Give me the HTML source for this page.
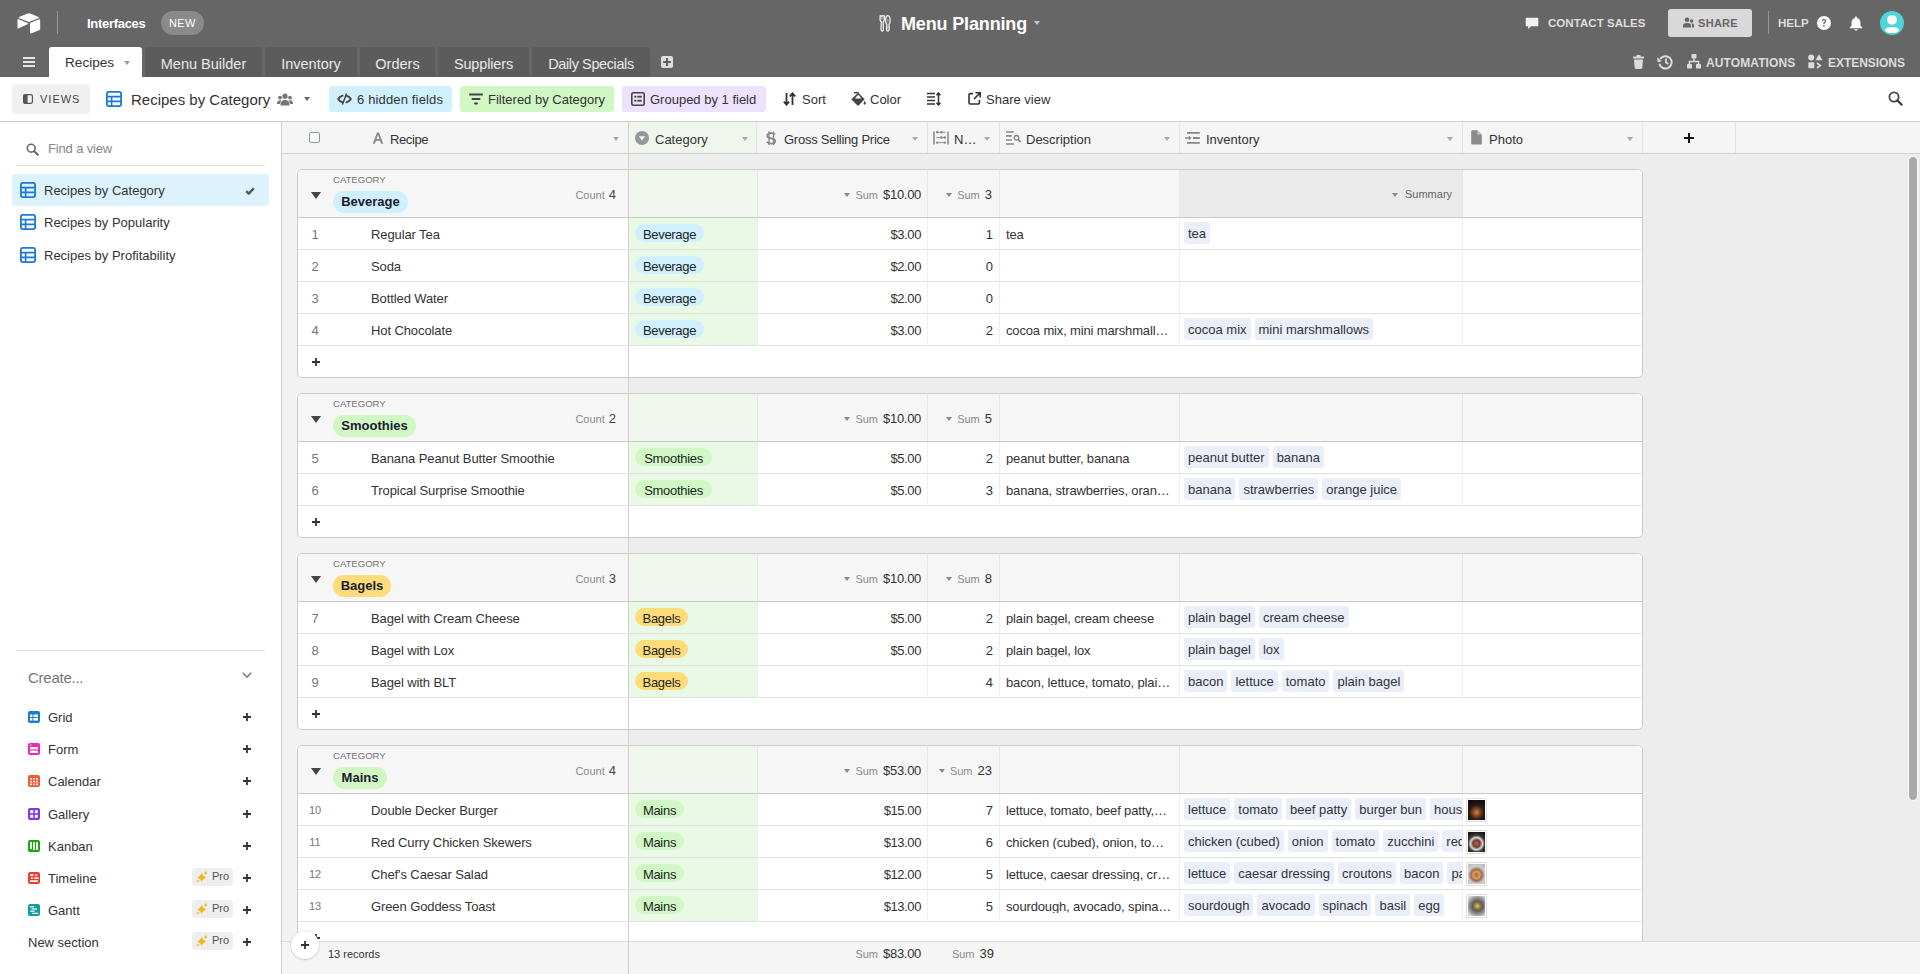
<!DOCTYPE html><html><head><meta charset="utf-8"><title>Menu Planning</title><style>
*{box-sizing:border-box;margin:0;padding:0}
html,body{width:1920px;height:974px;overflow:hidden;background:#fff;font-family:"Liberation Sans", sans-serif;color:#333}
.abs{position:absolute}
.t{position:absolute;white-space:nowrap;line-height:1}
#top{position:absolute;left:0;top:0;width:1920px;height:77px;background:#666}
.tab{position:absolute;top:47px;height:30px;background:#5c5c5c;border-radius:3px 3px 0 0}
.tab span{position:absolute;top:0;font-size:14.5px;line-height:1;color:#e8e8e8;white-space:nowrap}
#toolbar{position:absolute;left:0;top:77px;width:1920px;height:45px;background:#fff;border-bottom:1px solid #cfcfcf}
.btn{position:absolute;top:9px;height:26px;border-radius:3px}
#side{position:absolute;left:0;top:122px;width:282px;height:852px;background:#fff;border-right:1px solid #cfcfcf}
#grid{position:absolute;left:282px;top:122px;width:1638px;height:852px;background:#ededed;overflow:hidden}
.hdr{position:absolute;left:0;top:0;width:1638px;height:32px;background:#f5f5f5;border-bottom:1px solid #cfcfcf}
.hc{position:absolute;top:0;height:31px;border-right:1px solid #e4e4e4}
.hc .t{top:11px;font-size:13px;color:#333}
.grp{position:absolute;left:15px;width:1346px;background:#fff;border:1px solid #cbcbcb;border-radius:5px;overflow:hidden}
.gh{position:absolute;left:0;top:0;width:1344px;height:48px;background:#f6f6f6;border-bottom:1px solid #cbcbcb}
.row{position:absolute;left:0;width:1344px;height:32px;border-bottom:1px solid #dfe2e4;background:#fff}
.cell{position:absolute;top:0;height:31px;border-right:1px solid #ececec}
.c{position:absolute;font-size:13px;line-height:1;white-space:nowrap;color:#333}
.pill{position:absolute;top:6px;height:18px;border-radius:9px;font-size:13px;line-height:18px;padding:0 8px;color:#1d1f25;white-space:nowrap}
.chip{position:absolute;top:4px;height:22px;border-radius:3px;background:#e9eef9;font-size:13px;line-height:23px;padding:0 4px;color:#333;white-space:nowrap}
</style></head><body>
<div id="top">
<svg class="abs" style="left:16.6px;top:13px" width="24" height="22" viewBox="0 0 24 22">
<path d="M10.6 0.6 L2.2 4.0 C1.6 4.3 1.6 4.9 2.2 5.2 L10.7 8.5 C11.5 8.8 12.4 8.8 13.2 8.5 L21.6 5.2 C22.2 4.9 22.2 4.3 21.6 4.0 L13.2 0.6 C12.4 0.3 11.4 0.3 10.6 0.6Z" fill="#fff"/>
<path d="M13 10.4 V19.8 C13 20.3 13.5 20.6 13.9 20.4 L22.7 17.0 C23 16.9 23.2 16.6 23.2 16.3 V6.9 C23.2 6.4 22.7 6.1 22.3 6.3 L13.5 9.7 C13.2 9.8 13 10.1 13 10.4Z" fill="#fff"/>
<path d="M11 10.9 L8.4 12.2 L8.1 12.3 L1.3 15.6 C0.9 15.8 0.5 15.5 0.5 15.1 V6.6 C0.5 6.4 0.6 6.3 0.7 6.2 C0.8 6.1 0.9 6.1 1.0 6.1 C1.1 6.1 1.2 6.1 1.3 6.2 L10.8 9.9 C11.3 10.1 11.3 10.7 11 10.9Z" fill="#fff"/>
</svg>
<div class="abs" style="left:57px;top:11px;width:1px;height:23px;background:rgba(255,255,255,0.3)"></div>
<div class="t" style="left:87px;top:17px;font-size:13px;font-weight:700;color:#fff;letter-spacing:-0.3px">Interfaces</div>
<div class="abs" style="left:161px;top:11px;width:43px;height:24px;border-radius:12px;background:#8a8a8a"></div>
<div class="t" style="left:169px;top:18px;font-size:11px;color:#fff;letter-spacing:0.3px">NEW</div>
<svg class="abs" style="left:879px;top:15px" width="12" height="17" viewBox="0 0 12 17"><path d="M1.1 0.9 H5.3 V4.9 C5.3 5.9 4.7 6.5 4.1 6.8 L4.4 14.6 C4.4 15.6 3.9 16.1 3.2 16.1 C2.5 16.1 2 15.6 2 14.6 L2.3 6.8 C1.7 6.5 1.1 5.9 1.1 4.9Z" fill="none" stroke="#fff" stroke-width="1.15"/><path d="M2.6 1 V4.6 M3.8 1 V4.6" stroke="#fff" stroke-width="0.6" opacity="0.7"/><path d="M8.9 0.7 C10.4 0.7 11.2 3 11.2 5.8 C11.2 7.6 10.6 8.8 10 9.3 L10.2 14.6 C10.2 15.6 9.6 16.1 8.9 16.1 C8.2 16.1 7.6 15.6 7.6 14.6 L7.8 9.3 C7.2 8.8 6.6 7.6 6.6 5.8 C6.6 3 7.4 0.7 8.9 0.7Z" fill="none" stroke="#fff" stroke-width="1.15"/><path d="M8.9 3.2 V7.6 M8.9 10.5 V14.3" stroke="#fff" stroke-width="0.7" opacity="0.6"/></svg>
<div class="t" style="left:901px;top:15px;font-size:18px;font-weight:700;color:#fff;letter-spacing:-0.15px">Menu Planning</div>
<div class="abs" style="left:1034px;top:21px;width:0;height:0;border-left:3.5px solid transparent;border-right:3.5px solid transparent;border-top:4.5px solid #c8c8c8"></div>
<svg class="abs" style="left:1525px;top:17px" width="14" height="13" viewBox="0 0 14 13"><path d="M2 0.8 H12 C12.8 0.8 13.3 1.3 13.3 2.1 V8 C13.3 8.8 12.8 9.3 12 9.3 H6 L3.2 12 V9.3 H2 C1.2 9.3 0.7 8.8 0.7 8 V2.1 C0.7 1.3 1.2 0.8 2 0.8Z" fill="#f2f2f2"/></svg>
<div class="t" style="left:1548px;top:18px;font-size:11.5px;font-weight:700;color:#dedede;letter-spacing:0.05px">CONTACT SALES</div>
<div class="abs" style="left:1668px;top:9px;width:84px;height:28px;border-radius:3px;background:#d9d9d9"></div>
<svg class="abs" style="left:1683px;top:17px" width="11" height="11" viewBox="0 0 11 11"><circle cx="4" cy="2.7" r="2.3" fill="#666"/><path d="M0 10.5 V8.5 C0 6.8 1.5 6 4 6 C6.5 6 8 6.8 8 8.5 V10.5Z" fill="#666"/><circle cx="8.6" cy="4" r="1.7" fill="#666"/><path d="M8.6 6.3 C10 6.3 11 7 11 8.3 V10.5 H9 V8.3 C9 7.4 8.8 6.8 8.3 6.3Z" fill="#666"/></svg>
<div class="t" style="left:1698px;top:18px;font-size:11px;color:#666;letter-spacing:0.3px;font-weight:700">SHARE</div>
<div class="abs" style="left:1768px;top:11px;width:1px;height:23px;background:rgba(255,255,255,0.3)"></div>
<div class="t" style="left:1778px;top:18px;font-size:11.5px;font-weight:700;color:#dedede;letter-spacing:0px">HELP</div>
<svg class="abs" style="left:1817px;top:16px" width="14" height="14" viewBox="0 0 14 14"><circle cx="7" cy="7" r="7" fill="#fff"/><path d="M4.8 5.2 C4.8 3.9 5.8 3.1 7 3.1 C8.3 3.1 9.3 3.9 9.3 5.1 C9.3 6.4 7.8 6.7 7.6 7.7 V8.3 H6.3 V7.5 C6.4 6 8 5.9 8 5.1 C8 4.6 7.6 4.2 7 4.2 C6.4 4.2 6 4.6 6 5.2Z" fill="#666"/><rect x="6.2" y="9.2" width="1.5" height="1.5" rx="0.3" fill="#666"/></svg>
<svg class="abs" style="left:1849px;top:16px" width="14" height="15" viewBox="0 0 14 15"><path d="M7 0.5 C7.6 0.5 8 0.9 8 1.5 V1.9 C10.2 2.4 11.5 4.2 11.5 6.5 V9.8 L13.2 11.6 C13.5 11.9 13.3 12.3 12.9 12.3 H1.1 C0.7 12.3 0.5 11.9 0.8 11.6 L2.5 9.8 V6.5 C2.5 4.2 3.8 2.4 6 1.9 V1.5 C6 0.9 6.4 0.5 7 0.5Z" fill="#fff"/><path d="M5.2 13.2 H8.8 C8.6 14.1 7.9 14.6 7 14.6 C6.1 14.6 5.4 14.1 5.2 13.2Z" fill="#fff"/></svg>
<svg class="abs" style="left:1880px;top:11px" width="24" height="24" viewBox="0 0 24 24"><circle cx="12" cy="12" r="12" fill="#4dd5d9"/><circle cx="12" cy="8.8" r="4.9" fill="#fff"/><ellipse cx="12" cy="19" rx="7" ry="3.1" fill="#fff"/></svg>
<div class="abs" style="left:23px;top:57px;width:12px;height:2px;background:#e6e6e6"></div>
<div class="abs" style="left:23px;top:61px;width:12px;height:2px;background:#e6e6e6"></div>
<div class="abs" style="left:23px;top:65px;width:12px;height:2px;background:#e6e6e6"></div>
<div class="tab" style="left:49px;width:93px;background:#fff"><span style="left:16px;top:9px;color:#333;font-size:13.6px">Recipes</span><div class="abs" style="left:75px;top:14px;border-left:3.5px solid transparent;border-right:3.5px solid transparent;border-top:4.5px solid #9e9e9e"></div></div>
<div class="tab" style="left:145px;width:117px"><span style="left:0;width:100%;text-align:center;top:10px;letter-spacing:0px">Menu Builder</span></div>
<div class="tab" style="left:265px;width:92px"><span style="left:0;width:100%;text-align:center;top:10px;letter-spacing:0px">Inventory</span></div>
<div class="tab" style="left:360px;width:75px"><span style="left:0;width:100%;text-align:center;top:10px;letter-spacing:0px">Orders</span></div>
<div class="tab" style="left:438px;width:91px"><span style="left:0;width:100%;text-align:center;top:10px;letter-spacing:-0.15px">Suppliers</span></div>
<div class="tab" style="left:532px;width:118px"><span style="left:0;width:100%;text-align:center;top:10px;letter-spacing:-0.4px">Daily Specials</span></div>
<svg class="abs" style="left:661px;top:56px" width="12" height="12" viewBox="0 0 12 12"><rect x="0" y="0" width="12" height="12" rx="2" fill="#dedede"/><path d="M6 2.1 V9.9 M2.1 6 H9.9" stroke="#5f5f5f" stroke-width="2.1"/></svg>
<svg class="abs" style="left:1633px;top:55px" width="11" height="14" viewBox="0 0 11 14"><rect x="3.5" y="0" width="4" height="2" rx="0.5" fill="#dcdcdc"/><rect x="0" y="1.6" width="11" height="2" rx="0.6" fill="#dcdcdc"/><path d="M1 4.5 H10 L9.3 12.8 C9.2 13.5 8.8 14 8 14 H3 C2.2 14 1.8 13.5 1.7 12.8Z" fill="#dcdcdc"/></svg>
<svg class="abs" style="left:1657px;top:54px" width="16" height="16" viewBox="0 0 16 16"><path d="M3.2 5 A6.2 6.2 0 1 1 2.4 9.8" fill="none" stroke="#dcdcdc" stroke-width="2"/><path d="M0.3 3.2 L4.6 7.2 L0.6 8.3Z" fill="#dcdcdc"/><path d="M9 4.5 V8.5 L11.5 10" fill="none" stroke="#dcdcdc" stroke-width="1.8"/></svg>
<svg class="abs" style="left:1687px;top:54px" width="14" height="15" viewBox="0 0 14 15"><rect x="4.5" y="0" width="5" height="4.5" rx="0.8" fill="#dcdcdc"/><path d="M7 4.5 V7 M2.5 10 V7.5 H11.5 V10" fill="none" stroke="#dcdcdc" stroke-width="1.6"/><rect x="0" y="10" width="5" height="4.6" rx="0.8" fill="#dcdcdc"/><rect x="9" y="10" width="5" height="4.6" rx="0.8" fill="#dcdcdc"/></svg>
<div class="t" style="left:1706px;top:57px;font-size:12px;font-weight:700;color:#dcdcdc;letter-spacing:0.1px">AUTOMATIONS</div>
<svg class="abs" style="left:1808px;top:54px" width="15" height="15" viewBox="0 0 15 15"><circle cx="3.2" cy="3.5" r="3" fill="#dcdcdc"/><path d="M11 0.3 L14.5 6.3 H7.5Z" fill="#dcdcdc"/><rect x="0.3" y="8.3" width="6" height="6" rx="1" fill="#dcdcdc"/><path d="M9 9 L12.3 11.5 L9 14" fill="none" stroke="#dcdcdc" stroke-width="1.6"/></svg>
<div class="t" style="left:1828px;top:57px;font-size:12px;font-weight:700;color:#dcdcdc;letter-spacing:-0.05px">EXTENSIONS</div>
</div>
<div id="toolbar">
<div class="abs" style="left:12px;top:7px;width:78px;height:30px;border-radius:4px;background:#f0f0f0"></div>
<svg class="abs" style="left:23px;top:17px" width="10" height="10" viewBox="0 0 10 10"><rect x="0.6" y="0.6" width="8.8" height="8.8" rx="1.6" fill="none" stroke="#555" stroke-width="1.2"/><path d="M1.6 0.6 H4.6 V9.4 H1.6 C1 9.4 0.6 9 0.6 8.4 V1.6 C0.6 1 1 0.6 1.6 0.6Z" fill="#555"/></svg>
<div class="t" style="left:40px;top:17px;font-size:11px;font-weight:400;color:#444;letter-spacing:1.0px">VIEWS</div>
<svg class="abs" style="left:106px;top:14px" width="16" height="16" viewBox="0 0 16 16"><rect x="0.9" y="0.9" width="14.2" height="14.2" rx="2" fill="none" stroke="#1b7ad3" stroke-width="1.8"/><path d="M1 5.6 H15 M1 10.4 H15 M5.6 5.6 V15" stroke="#1b7ad3" stroke-width="1.6"/></svg>
<div class="t" style="left:131px;top:15px;font-size:15px;color:#333">Recipes by Category</div>
<svg class="abs" style="left:277px;top:15.7px" width="16" height="13" viewBox="0 0 16 13"><circle cx="8" cy="3.2" r="2.6" fill="#777"/><circle cx="3" cy="4.6" r="1.9" fill="#777"/><circle cx="13" cy="4.6" r="1.9" fill="#777"/><path d="M3.5 12.5 C3.5 8.6 5.2 7 8 7 C10.8 7 12.5 8.6 12.5 12.5Z" fill="#777"/><path d="M0 11 C0 8.4 1 7.3 3 7.3 C3.6 7.3 4 7.4 4.4 7.6 C3.6 8.5 3.2 9.6 3.1 11Z M16 11 C16 8.4 15 7.3 13 7.3 C12.4 7.3 12 7.4 11.6 7.6 C12.4 8.5 12.8 9.6 12.9 11Z" fill="#777"/></svg>
<div class="abs" style="left:304px;top:20px;border-left:3.5px solid transparent;border-right:3.5px solid transparent;border-top:4.5px solid #666"></div>
<div class="btn" style="left:329px;width:123px;background:#d0f0fd"></div>
<svg class="abs" style="left:337px;top:16px" width="15" height="12" viewBox="0 0 15 12"><path d="M5.6 2.6 Q2.4 3.8 1.1 6 Q2.4 8.2 5.6 9.4 M9.4 2.6 Q12.6 3.8 13.9 6 Q12.6 8.2 9.4 9.4" fill="none" stroke="#444" stroke-width="1.8" stroke-linecap="round"/><path d="M9.6 0.6 L5.4 11.4" stroke="#444" stroke-width="1.5"/></svg>
<div class="t" style="left:357px;top:16px;font-size:13px;color:#333;letter-spacing:0.15px">6 hidden fields</div>
<div class="btn" style="left:460px;width:154px;background:#d1f7c4"></div>
<svg class="abs" style="left:469px;top:16px" width="14" height="12" viewBox="0 0 14 12"><rect x="0" y="0.5" width="14" height="2" rx="1" fill="#444"/><rect x="2.5" y="5" width="9" height="2" rx="1" fill="#444"/><rect x="5" y="9.5" width="4" height="2" rx="1" fill="#444"/></svg>
<div class="t" style="left:488px;top:16px;font-size:13px;color:#333">Filtered by Category</div>
<div class="btn" style="left:622px;width:144px;background:#ede2fe"></div>
<svg class="abs" style="left:631px;top:15px" width="14" height="14" viewBox="0 0 14 14"><rect x="0.8" y="0.8" width="12.4" height="12.4" rx="1.5" fill="none" stroke="#444" stroke-width="1.6"/><rect x="3.3" y="3.8" width="2" height="1.8" fill="#444"/><rect x="6.3" y="3.8" width="4.5" height="1.8" fill="#444"/><rect x="3.3" y="7.8" width="2" height="1.8" fill="#444"/><rect x="6.3" y="7.8" width="4.5" height="1.8" fill="#444"/></svg>
<div class="t" style="left:650px;top:16px;font-size:13px;color:#333">Grouped by 1 field</div>
<svg class="abs" style="left:783px;top:15px" width="13" height="14" viewBox="0 0 13 14"><path d="M3.5 1 V12.5 M0.8 9.6 L3.5 12.6 L6.2 9.6" fill="none" stroke="#333" stroke-width="1.8"/><path d="M9.5 13 V1.5 M6.8 4.4 L9.5 1.4 L12.2 4.4" fill="none" stroke="#333" stroke-width="1.8"/></svg>
<div class="t" style="left:802px;top:16px;font-size:13px;color:#333">Sort</div>
<svg class="abs" style="left:851px;top:92px;top:15px" width="15" height="14" viewBox="0 0 15 14"><path d="M0.3 7.3 L7.2 0.7 L13.7 7.3 L7 13.9Z" fill="#444"/><path d="M3.9 6.4 L10.5 6.4 L7.2 2.7Z" fill="#fff"/><path d="M2.9 0 H7.3 L8 0.8 L7.2 1.6 H2.9Z" fill="#444"/><path d="M13.7 9 C14.5 10.3 14.8 11 14.8 11.6 C14.8 12.3 14.3 12.8 13.7 12.8 C13.1 12.8 12.6 12.3 12.6 11.6 C12.6 11 12.9 10.3 13.7 9Z" fill="#444"/></svg>
<div class="t" style="left:870px;top:16px;font-size:13px;color:#333">Color</div>
<svg class="abs" style="left:927px;top:15px" width="14" height="14" viewBox="0 0 14 14"><path d="M0 1.5 H8 M0 5 H8 M0 8.5 H8 M0 12 H8" stroke="#333" stroke-width="1.4"/><path d="M11.5 1 V13 M9.5 3.2 L11.5 1 L13.5 3.2 M9.5 10.8 L11.5 13 L13.5 10.8" fill="none" stroke="#333" stroke-width="1.5"/></svg>
<svg class="abs" style="left:968px;top:15px" width="13" height="13" viewBox="0 0 13 13"><path d="M5 1.6 H2.2 C1.5 1.6 1 2.1 1 2.8 V10.8 C1 11.5 1.5 12 2.2 12 H10.2 C10.9 12 11.4 11.5 11.4 10.8 V8" fill="none" stroke="#333" stroke-width="1.6"/><path d="M7.5 0.8 H12.2 V5.5 M12 1 L6 7" fill="none" stroke="#333" stroke-width="1.6"/></svg>
<div class="t" style="left:986px;top:16px;font-size:13px;color:#333">Share view</div>
<svg class="abs" style="left:1888px;top:14px" width="15" height="15" viewBox="0 0 15 15"><circle cx="6" cy="6" r="4.6" fill="none" stroke="#444" stroke-width="1.8"/><path d="M9.4 9.4 L13.6 13.6" stroke="#444" stroke-width="2.2" stroke-linecap="round"/></svg>
</div>
<div id="side">
<svg class="abs" style="left:26px;top:21px" width="13" height="13" viewBox="0 0 13 13"><circle cx="5.2" cy="5.2" r="3.9" fill="none" stroke="#666" stroke-width="1.6"/><path d="M8.2 8.2 L11.8 11.8" stroke="#666" stroke-width="2" stroke-linecap="round"/></svg>
<div class="t" style="left:48px;top:20px;font-size:13px;color:#888;letter-spacing:-0.15px">Find a view</div>
<div class="abs" style="left:16px;top:43px;width:249px;height:1px;background:#e2e2e2"></div>
<div class="abs" style="left:12px;top:52px;width:257px;height:32px;border-radius:3px;background:#dcf3fd"></div>
<svg class="abs" style="left:20px;top:60px" width="16" height="16" viewBox="0 0 16 16"><rect x="0.9" y="0.9" width="14.2" height="14.2" rx="2" fill="none" stroke="#1b7ad3" stroke-width="1.8"/><path d="M1 5.6 H15 M1 10.4 H15 M5.6 5.6 V15" stroke="#1b7ad3" stroke-width="1.6"/></svg>
<div class="t" style="left:44px;top:62px;font-size:13px;color:#333">Recipes by Category</div>
<svg class="abs" style="left:20px;top:92px" width="16" height="16" viewBox="0 0 16 16"><rect x="0.9" y="0.9" width="14.2" height="14.2" rx="2" fill="none" stroke="#1b7ad3" stroke-width="1.8"/><path d="M1 5.6 H15 M1 10.4 H15 M5.6 5.6 V15" stroke="#1b7ad3" stroke-width="1.6"/></svg>
<div class="t" style="left:44px;top:94px;font-size:13px;color:#333">Recipes by Popularity</div>
<svg class="abs" style="left:20px;top:125px" width="16" height="16" viewBox="0 0 16 16"><rect x="0.9" y="0.9" width="14.2" height="14.2" rx="2" fill="none" stroke="#1b7ad3" stroke-width="1.8"/><path d="M1 5.6 H15 M1 10.4 H15 M5.6 5.6 V15" stroke="#1b7ad3" stroke-width="1.6"/></svg>
<div class="t" style="left:44px;top:127px;font-size:13px;color:#333">Recipes by Profitability</div>
<svg class="abs" style="left:245px;top:64px" width="10" height="9" viewBox="0 0 10 9"><path d="M1.2 5.2 L3.8 7.6 L8.8 2.2" fill="none" stroke="#555" stroke-width="2.4" stroke-linejoin="round"/></svg>
<div class="abs" style="left:16px;top:528px;width:249px;height:1px;background:#e2e2e2"></div>
<div class="t" style="left:28px;top:548px;font-size:15px;color:#777;letter-spacing:-0.25px">Create...</div>
<svg class="abs" style="left:242px;top:550px" width="10" height="7" viewBox="0 0 10 7"><path d="M0.8 0.8 L5 5.2 L9.2 0.8" fill="none" stroke="#777" stroke-width="1.6"/></svg>
<svg class="abs" style="left:28px;top:589px" width="12" height="12" viewBox="0 0 12 12"><rect x="0" y="0" width="12" height="12" rx="2" fill="#1b7ad3"/><rect x="2" y="3.5" width="2.4" height="2.6" fill="#fff"/><rect x="5.4" y="3.5" width="4.6" height="2.6" fill="#fff"/><rect x="2" y="7" width="2.4" height="2.6" fill="#fff"/><rect x="5.4" y="7" width="4.6" height="2.6" fill="#fff"/></svg>
<div class="t" style="left:48px;top:589px;font-size:13px;color:#333">Grid</div>
<svg class="abs" style="left:243px;top:591px" width="8" height="8" viewBox="0 0 8 8"><path d="M4 0 V8 M0 4 H8" stroke="#333" stroke-width="1.8"/></svg>
<svg class="abs" style="left:28px;top:621px" width="12" height="12" viewBox="0 0 12 12"><rect x="0" y="0" width="12" height="12" rx="2" fill="#e929ba"/><rect x="2" y="4" width="8" height="2.4" fill="#fff"/><rect x="2" y="7.6" width="8" height="2.4" fill="#fff"/><rect x="2" y="1.6" width="1.4" height="1" fill="#fff"/></svg>
<div class="t" style="left:48px;top:621px;font-size:13px;color:#333">Form</div>
<svg class="abs" style="left:243px;top:623px" width="8" height="8" viewBox="0 0 8 8"><path d="M4 0 V8 M0 4 H8" stroke="#333" stroke-width="1.8"/></svg>
<svg class="abs" style="left:28px;top:653px" width="12" height="12" viewBox="0 0 12 12"><rect x="0" y="0" width="12" height="12" rx="2" fill="#f05a3a"/><rect x="2.2" y="3.2" width="1.8" height="1.6" fill="#fff"/><rect x="5.1" y="3.2" width="1.8" height="1.6" fill="#fff"/><rect x="8" y="3.2" width="1.8" height="1.6" fill="#fff"/><rect x="2.2" y="5.9" width="1.8" height="1.6" fill="#fff"/><rect x="5.1" y="5.9" width="1.8" height="1.6" fill="#fff"/><rect x="8" y="5.9" width="1.8" height="1.6" fill="#fff"/><rect x="2.2" y="8.6" width="1.8" height="1.6" fill="#fff"/><rect x="5.1" y="8.6" width="1.8" height="1.6" fill="#fff"/><rect x="8" y="8.6" width="1.8" height="1.6" fill="#fff"/></svg>
<div class="t" style="left:48px;top:653px;font-size:13px;color:#333">Calendar</div>
<svg class="abs" style="left:243px;top:655px" width="8" height="8" viewBox="0 0 8 8"><path d="M4 0 V8 M0 4 H8" stroke="#333" stroke-width="1.8"/></svg>
<svg class="abs" style="left:28px;top:686px" width="12" height="12" viewBox="0 0 12 12"><rect x="0" y="0" width="12" height="12" rx="2" fill="#7c39ed"/><rect x="2.2" y="2.2" width="3" height="3" fill="#fff"/><rect x="6.8" y="2.2" width="3" height="3" fill="#fff"/><rect x="2.2" y="6.8" width="3" height="3" fill="#fff"/><rect x="6.8" y="6.8" width="3" height="3" fill="#fff"/></svg>
<div class="t" style="left:48px;top:686px;font-size:13px;color:#333">Gallery</div>
<svg class="abs" style="left:243px;top:688px" width="8" height="8" viewBox="0 0 8 8"><path d="M4 0 V8 M0 4 H8" stroke="#333" stroke-width="1.8"/></svg>
<svg class="abs" style="left:28px;top:718px" width="12" height="12" viewBox="0 0 12 12"><rect x="0" y="0" width="12" height="12" rx="2" fill="#12a90e"/><rect x="2" y="2" width="2" height="7" fill="#fff"/><rect x="5" y="2" width="2" height="8" fill="#fff"/><rect x="8" y="2" width="2" height="8" fill="#fff"/></svg>
<div class="t" style="left:48px;top:718px;font-size:13px;color:#333">Kanban</div>
<svg class="abs" style="left:243px;top:720px" width="8" height="8" viewBox="0 0 8 8"><path d="M4 0 V8 M0 4 H8" stroke="#333" stroke-width="1.8"/></svg>
<svg class="abs" style="left:28px;top:750px" width="12" height="12" viewBox="0 0 12 12"><rect x="0" y="0" width="12" height="12" rx="2" fill="#ef3d33"/><rect x="2" y="2.2" width="3.6" height="1.7" fill="#fff"/><rect x="7.2" y="2.2" width="2" height="1.7" fill="#fff"/><rect x="3" y="5.2" width="1.8" height="1.7" fill="#fff"/><rect x="6.2" y="5.2" width="4.4" height="1.7" fill="#fff"/><rect x="2" y="8.2" width="7.8" height="1.7" fill="#fff"/></svg>
<div class="t" style="left:48px;top:750px;font-size:13px;color:#333">Timeline</div>
<svg class="abs" style="left:243px;top:752px" width="8" height="8" viewBox="0 0 8 8"><path d="M4 0 V8 M0 4 H8" stroke="#333" stroke-width="1.8"/></svg>
<div class="abs" style="left:192px;top:746px;width:41px;height:18px;border-radius:4px;background:#eeeeee"></div>
<svg class="abs" style="left:196px;top:749px" width="12" height="12" viewBox="0 0 12 12"><path d="M5.7 1.6 Q6.5 5.3 10.1 6.4 Q6.5 7.5 5.7 11.2 Q4.9 7.5 1.3 6.4 Q4.9 5.3 5.7 1.6Z" fill="#fbb012"/><path d="M9.6 0.1 Q9.9 1.6 11.5 2.1 Q9.9 2.6 9.6 4.1 Q9.3 2.6 7.7 2.1 Q9.3 1.6 9.6 0.1Z" fill="#fbb012"/><rect x="0.9" y="9.1" width="1.9" height="1.9" rx="0.4" fill="#fbb012"/></svg>
<div class="t" style="left:212px;top:749px;font-size:11px;color:#555">Pro</div>
<svg class="abs" style="left:28px;top:782px" width="12" height="12" viewBox="0 0 12 12"><rect x="0" y="0" width="12" height="12" rx="2" fill="#0f9e9b"/><rect x="1.7" y="2.2" width="4.6" height="1.2" fill="#fff"/><rect x="3.5" y="4.4" width="5.5" height="1.2" fill="#fff"/><rect x="2.2" y="6.6" width="4.4" height="1.2" fill="#fff"/><rect x="4.2" y="8.8" width="6" height="1.2" fill="#fff"/></svg>
<div class="t" style="left:48px;top:782px;font-size:13px;color:#333">Gantt</div>
<svg class="abs" style="left:243px;top:784px" width="8" height="8" viewBox="0 0 8 8"><path d="M4 0 V8 M0 4 H8" stroke="#333" stroke-width="1.8"/></svg>
<div class="abs" style="left:192px;top:778px;width:41px;height:18px;border-radius:4px;background:#eeeeee"></div>
<svg class="abs" style="left:196px;top:781px" width="12" height="12" viewBox="0 0 12 12"><path d="M5.7 1.6 Q6.5 5.3 10.1 6.4 Q6.5 7.5 5.7 11.2 Q4.9 7.5 1.3 6.4 Q4.9 5.3 5.7 1.6Z" fill="#fbb012"/><path d="M9.6 0.1 Q9.9 1.6 11.5 2.1 Q9.9 2.6 9.6 4.1 Q9.3 2.6 7.7 2.1 Q9.3 1.6 9.6 0.1Z" fill="#fbb012"/><rect x="0.9" y="9.1" width="1.9" height="1.9" rx="0.4" fill="#fbb012"/></svg>
<div class="t" style="left:212px;top:781px;font-size:11px;color:#555">Pro</div>
<div class="t" style="left:28px;top:814px;font-size:13px;color:#333">New section</div>
<svg class="abs" style="left:243px;top:816px" width="8" height="8" viewBox="0 0 8 8"><path d="M4 0 V8 M0 4 H8" stroke="#333" stroke-width="1.8"/></svg>
<div class="abs" style="left:192px;top:810px;width:41px;height:18px;border-radius:4px;background:#eeeeee"></div>
<svg class="abs" style="left:196px;top:813px" width="12" height="12" viewBox="0 0 12 12"><path d="M5.7 1.6 Q6.5 5.3 10.1 6.4 Q6.5 7.5 5.7 11.2 Q4.9 7.5 1.3 6.4 Q4.9 5.3 5.7 1.6Z" fill="#fbb012"/><path d="M9.6 0.1 Q9.9 1.6 11.5 2.1 Q9.9 2.6 9.6 4.1 Q9.3 2.6 7.7 2.1 Q9.3 1.6 9.6 0.1Z" fill="#fbb012"/><rect x="0.9" y="9.1" width="1.9" height="1.9" rx="0.4" fill="#fbb012"/></svg>
<div class="t" style="left:212px;top:813px;font-size:11px;color:#555">Pro</div>
</div>
<div id="grid">
<div class="abs" style="left:0;top:0;width:346px;height:852px;background:#f2f2f2"></div>
<div class="abs" style="left:346px;top:0;width:1px;height:852px;background:#cfcfcf"></div>
<div class="hdr">
<div class="abs" style="left:346px;top:0;width:1px;height:31px;background:#cfcfcf"></div>
<svg class="abs" style="left:27px;top:10px" width="11" height="11" viewBox="0 0 11 11"><rect x="0.5" y="0.5" width="10" height="10" rx="1.5" fill="#fff" stroke="#8a9aa5" stroke-width="1"/></svg>
<svg class="abs" style="left:90px;top:10px" width="12" height="12" viewBox="0 0 12 12"><path d="M0.8 11.8 L5 0.6 H7 L11.2 11.8 H9.2 L8.1 8.8 H3.9 L2.8 11.8Z M4.5 7.1 H7.5 L6 2.8Z" fill="#878787"/></svg>
<div class="t" style="left:108px;top:11px;font-size:13px;color:#333;letter-spacing:-0.4px">Recipe</div>
<div class="abs" style="left:331px;top:15px;border-left:3px solid transparent;border-right:3px solid transparent;border-top:4px solid #a8a8a8"></div>
<div class="abs" style="left:347px;top:0;width:128px;height:31px;background:#f0f6ee;border-right:1px solid #e2e2e2"></div>
<svg class="abs" style="left:353px;top:9px" width="14" height="14" viewBox="0 0 14 14"><circle cx="7" cy="7" r="7" fill="#979797"/><path d="M3.8 5.2 H10.2 L7 9.6Z" fill="#f0f6ee"/></svg>
<div class="t" style="left:373px;top:11px;font-size:13px;color:#333">Category</div>
<div class="abs" style="left:460px;top:15px;border-left:3px solid transparent;border-right:3px solid transparent;border-top:4px solid #a8a8a8"></div>
<div class="abs" style="left:645px;top:0;width:1px;height:31px;background:#e2e2e2"></div>
<div class="abs" style="left:717px;top:0;width:1px;height:31px;background:#e2e2e2"></div>
<div class="abs" style="left:897px;top:0;width:1px;height:31px;background:#e2e2e2"></div>
<div class="abs" style="left:1180px;top:0;width:1px;height:31px;background:#e2e2e2"></div>
<div class="abs" style="left:1360px;top:0;width:1px;height:31px;background:#e2e2e2"></div>
<div class="abs" style="left:1453px;top:0;width:1px;height:31px;background:#e2e2e2"></div>
<svg class="abs" style="left:483px;top:9px" width="12" height="15" viewBox="0 0 12 15"><path d="M4 0.5 V14 M8.5 0.5 V14" stroke="#878787" stroke-width="1.3"/><path d="M10 3.5 C9.3 2.6 8.2 2.2 6.3 2.2 C3.6 2.2 2.2 3.3 2.2 4.9 C2.2 8.3 10.2 6.4 10.2 10 C10.2 11.6 8.6 12.6 6.1 12.6 C4.1 12.6 2.6 12 1.7 10.8" fill="none" stroke="#878787" stroke-width="1.8"/></svg>
<div class="t" style="left:502px;top:11px;font-size:13px;color:#333;letter-spacing:-0.25px">Gross Selling Price</div>
<div class="abs" style="left:630px;top:15px;border-left:3px solid transparent;border-right:3px solid transparent;border-top:4px solid #a8a8a8"></div>
<svg class="abs" style="left:651px;top:9px" width="16" height="14" viewBox="0 0 16 14"><path d="M1 0.5 V13.5 M15 0.5 V13.5" stroke="#878787" stroke-width="1.5"/><path d="M3.5 1.3 H12.5 M3.5 6.5 H12.5 M3.5 11.6 H12.5" stroke="#878787" stroke-width="0.9"/><circle cx="4.2" cy="1.3" r="1.2" fill="#878787"/><circle cx="8.5" cy="1.3" r="1.2" fill="#878787"/><circle cx="8.4" cy="6.5" r="1.2" fill="#878787"/><circle cx="11.7" cy="6.5" r="1.2" fill="#878787"/><circle cx="4.2" cy="11.6" r="1.2" fill="#878787"/><circle cx="11.7" cy="11.6" r="1.2" fill="#878787"/></svg>
<div class="t" style="left:672px;top:11px;font-size:13px;color:#333">N…</div>
<div class="abs" style="left:702px;top:15px;border-left:3px solid transparent;border-right:3px solid transparent;border-top:4px solid #a8a8a8"></div>
<svg class="abs" style="left:724px;top:9px" width="15" height="14" viewBox="0 0 15 14"><path d="M0 1 H7.8 M0 4.9 H5.7 M0 9 H6 M0 13 H7.8" stroke="#878787" stroke-width="1.6"/><circle cx="10.5" cy="6.8" r="2.3" fill="none" stroke="#878787" stroke-width="1.3"/><path d="M12.2 8.6 L14.2 10.6" stroke="#878787" stroke-width="1.6" stroke-linecap="round"/></svg>
<div class="t" style="left:744px;top:11px;font-size:13px;color:#333">Description</div>
<div class="abs" style="left:882px;top:15px;border-left:3px solid transparent;border-right:3px solid transparent;border-top:4px solid #a8a8a8"></div>
<svg class="abs" style="left:903px;top:9px" width="15" height="14" viewBox="0 0 15 14"><path d="M2 1.8 H14.8 M8 7 H14.8 M2 11.9 H14.8" stroke="#878787" stroke-width="1.8"/><path d="M0.2 7 H4.5" stroke="#878787" stroke-width="1.5"/><path d="M3.8 4.8 L6.6 7 L3.8 9.2Z" fill="#878787"/></svg>
<div class="t" style="left:924px;top:11px;font-size:13px;color:#333">Inventory</div>
<div class="abs" style="left:1165px;top:15px;border-left:3px solid transparent;border-right:3px solid transparent;border-top:4px solid #a8a8a8"></div>
<svg class="abs" style="left:1189px;top:8px" width="11" height="15" viewBox="0 0 11 15"><path d="M1.5 0.2 H6.5 L10.8 4.5 V13.3 C10.8 14.1 10.3 14.6 9.5 14.6 H1.5 C0.7 14.6 0.2 14.1 0.2 13.3 V1.5 C0.2 0.7 0.7 0.2 1.5 0.2Z" fill="#8a8a8a"/><path d="M6.5 0.2 V4.5 H10.8" fill="#c8c8c8"/></svg>
<div class="t" style="left:1207px;top:11px;font-size:13px;color:#333">Photo</div>
<div class="abs" style="left:1345px;top:15px;border-left:3px solid transparent;border-right:3px solid transparent;border-top:4px solid #a8a8a8"></div>
<svg class="abs" style="left:1402px;top:11px" width="10" height="10" viewBox="0 0 10 10"><path d="M5 0 V10 M0 5 H10" stroke="#111" stroke-width="2"/></svg>
</div>
<div class="grp" style="top:47px;height:209px">
<div class="gh">
<div class="abs" style="left:331px;top:0;width:128px;height:47px;background:#f1f6ef"></div>
<div class="abs" style="left:882px;top:0;width:282px;height:47px;background:#eaeaea"></div>
<div class="abs" style="left:1094px;top:23px;border-left:3px solid transparent;border-right:3px solid transparent;border-top:4px solid #8a8a8a"></div>
<div class="t" style="left:1107px;top:19px;font-size:11px;color:#666">Summary</div>
<div class="abs" style="left:330px;top:0;width:1px;height:47px;background:#cfcfcf"></div>
<div class="abs" style="left:459px;top:0;width:1px;height:47px;background:#e6e6e6"></div>
<div class="abs" style="left:629px;top:0;width:1px;height:47px;background:#e6e6e6"></div>
<div class="abs" style="left:701px;top:0;width:1px;height:47px;background:#e6e6e6"></div>
<div class="abs" style="left:881px;top:0;width:1px;height:47px;background:#e6e6e6"></div>
<div class="abs" style="left:1164px;top:0;width:1px;height:47px;background:#e6e6e6"></div>
<div class="abs" style="left:13px;top:22px;border-left:5px solid transparent;border-right:5px solid transparent;border-top:7px solid #444"></div>
<div class="t" style="left:35px;top:4.5px;font-size:9.7px;color:#777;letter-spacing:-0.1px">CATEGORY</div>
<div class="abs" style="left:35px;top:21px;width:75px;height:22px;border-radius:11px;background:#d0f0fd"></div>
<div class="t" style="left:35px;width:75px;text-align:center;top:25px;font-size:13px;font-weight:700;color:#1a1a2e">Beverage</div>
<div class="t" style="right:1026px;top:18px;font-size:13px;color:#444"><span style="font-size:11px;color:#8a8a8a;margin-right:4px">Count</span>4</div>
<div class="t" style="right:721px;top:18px;font-size:13px;color:#333;letter-spacing:-0.3px"><span style="font-size:11px;color:#8a8a8a;margin-right:5px;letter-spacing:0">Sum</span>$10.00</div>
<div class="abs" style="left:546px;top:23px;border-left:3px solid transparent;border-right:3px solid transparent;border-top:4px solid #888"></div>
<div class="t" style="right:650px;top:18px;font-size:13px;color:#333"><span style="font-size:11px;color:#8a8a8a;margin-right:5px">Sum</span>3</div>
<div class="abs" style="left:648px;top:23px;border-left:3px solid transparent;border-right:3px solid transparent;border-top:4px solid #888"></div>
</div>
<div class="row" style="top:48px">
<div class="abs" style="left:331px;top:0;width:128px;height:31px;background:#eaf9e5"></div>
<div class="abs" style="left:330px;top:0;width:1px;height:31px;background:#cfcfcf"></div>
<div class="abs" style="left:459px;top:0;width:1px;height:32px;background:#eeeeee"></div>
<div class="abs" style="left:629px;top:0;width:1px;height:32px;background:#eeeeee"></div>
<div class="abs" style="left:701px;top:0;width:1px;height:32px;background:#eeeeee"></div>
<div class="abs" style="left:881px;top:0;width:1px;height:32px;background:#eeeeee"></div>
<div class="abs" style="left:1164px;top:0;width:1px;height:32px;background:#eeeeee"></div>
<div class="c" style="left:-3px;width:40px;text-align:center;top:10px;font-size:13px;color:#777">1</div>
<div class="c" style="left:73px;top:10px;letter-spacing:-0.1px">Regular Tea</div>
<div class="abs" style="left:337px;top:6px;width:69px;height:18px;border-radius:9px;background:#d0f0fd"></div>
<div class="c" style="left:337px;width:69px;text-align:center;top:10px;letter-spacing:-0.3px;color:#1d1f25">Beverage</div>
<div class="c" style="right:721px;top:10px;letter-spacing:-0.4px">$3.00</div>
<div class="c" style="right:649px;top:10px">1</div>
<div class="c" style="left:708px;top:10px;width:170px;overflow:hidden;letter-spacing:-0.15px">tea</div>
<div class="abs" style="left:886px;top:4px;width:278px;height:23px;overflow:hidden;white-space:nowrap"><div class="chip" style="position:relative;display:inline-block;top:0;margin-right:4px;vertical-align:top">tea</div></div>
</div>
<div class="row" style="top:80px">
<div class="abs" style="left:331px;top:0;width:128px;height:31px;background:#eaf9e5"></div>
<div class="abs" style="left:330px;top:0;width:1px;height:31px;background:#cfcfcf"></div>
<div class="abs" style="left:459px;top:0;width:1px;height:32px;background:#eeeeee"></div>
<div class="abs" style="left:629px;top:0;width:1px;height:32px;background:#eeeeee"></div>
<div class="abs" style="left:701px;top:0;width:1px;height:32px;background:#eeeeee"></div>
<div class="abs" style="left:881px;top:0;width:1px;height:32px;background:#eeeeee"></div>
<div class="abs" style="left:1164px;top:0;width:1px;height:32px;background:#eeeeee"></div>
<div class="c" style="left:-3px;width:40px;text-align:center;top:10px;font-size:13px;color:#777">2</div>
<div class="c" style="left:73px;top:10px;letter-spacing:-0.1px">Soda</div>
<div class="abs" style="left:337px;top:6px;width:69px;height:18px;border-radius:9px;background:#d0f0fd"></div>
<div class="c" style="left:337px;width:69px;text-align:center;top:10px;letter-spacing:-0.3px;color:#1d1f25">Beverage</div>
<div class="c" style="right:721px;top:10px;letter-spacing:-0.4px">$2.00</div>
<div class="c" style="right:649px;top:10px">0</div>
</div>
<div class="row" style="top:112px">
<div class="abs" style="left:331px;top:0;width:128px;height:31px;background:#eaf9e5"></div>
<div class="abs" style="left:330px;top:0;width:1px;height:31px;background:#cfcfcf"></div>
<div class="abs" style="left:459px;top:0;width:1px;height:32px;background:#eeeeee"></div>
<div class="abs" style="left:629px;top:0;width:1px;height:32px;background:#eeeeee"></div>
<div class="abs" style="left:701px;top:0;width:1px;height:32px;background:#eeeeee"></div>
<div class="abs" style="left:881px;top:0;width:1px;height:32px;background:#eeeeee"></div>
<div class="abs" style="left:1164px;top:0;width:1px;height:32px;background:#eeeeee"></div>
<div class="c" style="left:-3px;width:40px;text-align:center;top:10px;font-size:13px;color:#777">3</div>
<div class="c" style="left:73px;top:10px;letter-spacing:-0.1px">Bottled Water</div>
<div class="abs" style="left:337px;top:6px;width:69px;height:18px;border-radius:9px;background:#d0f0fd"></div>
<div class="c" style="left:337px;width:69px;text-align:center;top:10px;letter-spacing:-0.3px;color:#1d1f25">Beverage</div>
<div class="c" style="right:721px;top:10px;letter-spacing:-0.4px">$2.00</div>
<div class="c" style="right:649px;top:10px">0</div>
</div>
<div class="row" style="top:144px">
<div class="abs" style="left:331px;top:0;width:128px;height:31px;background:#eaf9e5"></div>
<div class="abs" style="left:330px;top:0;width:1px;height:31px;background:#cfcfcf"></div>
<div class="abs" style="left:459px;top:0;width:1px;height:32px;background:#eeeeee"></div>
<div class="abs" style="left:629px;top:0;width:1px;height:32px;background:#eeeeee"></div>
<div class="abs" style="left:701px;top:0;width:1px;height:32px;background:#eeeeee"></div>
<div class="abs" style="left:881px;top:0;width:1px;height:32px;background:#eeeeee"></div>
<div class="abs" style="left:1164px;top:0;width:1px;height:32px;background:#eeeeee"></div>
<div class="c" style="left:-3px;width:40px;text-align:center;top:10px;font-size:13px;color:#777">4</div>
<div class="c" style="left:73px;top:10px;letter-spacing:-0.1px">Hot Chocolate</div>
<div class="abs" style="left:337px;top:6px;width:69px;height:18px;border-radius:9px;background:#d0f0fd"></div>
<div class="c" style="left:337px;width:69px;text-align:center;top:10px;letter-spacing:-0.3px;color:#1d1f25">Beverage</div>
<div class="c" style="right:721px;top:10px;letter-spacing:-0.4px">$3.00</div>
<div class="c" style="right:649px;top:10px">2</div>
<div class="c" style="left:708px;top:10px;width:170px;overflow:hidden;letter-spacing:-0.15px">cocoa mix, mini marshmall…</div>
<div class="abs" style="left:886px;top:4px;width:278px;height:23px;overflow:hidden;white-space:nowrap"><div class="chip" style="position:relative;display:inline-block;top:0;margin-right:4px;vertical-align:top">cocoa mix</div><div class="chip" style="position:relative;display:inline-block;top:0;margin-right:4px;vertical-align:top">mini marshmallows</div></div>
</div>
<div class="abs" style="left:330px;top:176px;width:1px;height:31px;background:#cfcfcf"></div>
<svg class="abs" style="left:14px;top:188px" width="8" height="8" viewBox="0 0 8 8"><path d="M4 0 V8 M0 4 H8" stroke="#333" stroke-width="1.8"/></svg>
</div>
<div class="grp" style="top:271px;height:145px">
<div class="gh">
<div class="abs" style="left:331px;top:0;width:128px;height:47px;background:#f1f6ef"></div>
<div class="abs" style="left:330px;top:0;width:1px;height:47px;background:#cfcfcf"></div>
<div class="abs" style="left:459px;top:0;width:1px;height:47px;background:#e6e6e6"></div>
<div class="abs" style="left:629px;top:0;width:1px;height:47px;background:#e6e6e6"></div>
<div class="abs" style="left:701px;top:0;width:1px;height:47px;background:#e6e6e6"></div>
<div class="abs" style="left:881px;top:0;width:1px;height:47px;background:#e6e6e6"></div>
<div class="abs" style="left:1164px;top:0;width:1px;height:47px;background:#e6e6e6"></div>
<div class="abs" style="left:13px;top:22px;border-left:5px solid transparent;border-right:5px solid transparent;border-top:7px solid #444"></div>
<div class="t" style="left:35px;top:4.5px;font-size:9.7px;color:#777;letter-spacing:-0.1px">CATEGORY</div>
<div class="abs" style="left:35px;top:21px;width:83px;height:22px;border-radius:11px;background:#d1f7c4"></div>
<div class="t" style="left:35px;width:83px;text-align:center;top:25px;font-size:13px;font-weight:700;color:#1a1a2e">Smoothies</div>
<div class="t" style="right:1026px;top:18px;font-size:13px;color:#444"><span style="font-size:11px;color:#8a8a8a;margin-right:4px">Count</span>2</div>
<div class="t" style="right:721px;top:18px;font-size:13px;color:#333;letter-spacing:-0.3px"><span style="font-size:11px;color:#8a8a8a;margin-right:5px;letter-spacing:0">Sum</span>$10.00</div>
<div class="abs" style="left:546px;top:23px;border-left:3px solid transparent;border-right:3px solid transparent;border-top:4px solid #888"></div>
<div class="t" style="right:650px;top:18px;font-size:13px;color:#333"><span style="font-size:11px;color:#8a8a8a;margin-right:5px">Sum</span>5</div>
<div class="abs" style="left:648px;top:23px;border-left:3px solid transparent;border-right:3px solid transparent;border-top:4px solid #888"></div>
</div>
<div class="row" style="top:48px">
<div class="abs" style="left:331px;top:0;width:128px;height:31px;background:#eaf9e5"></div>
<div class="abs" style="left:330px;top:0;width:1px;height:31px;background:#cfcfcf"></div>
<div class="abs" style="left:459px;top:0;width:1px;height:32px;background:#eeeeee"></div>
<div class="abs" style="left:629px;top:0;width:1px;height:32px;background:#eeeeee"></div>
<div class="abs" style="left:701px;top:0;width:1px;height:32px;background:#eeeeee"></div>
<div class="abs" style="left:881px;top:0;width:1px;height:32px;background:#eeeeee"></div>
<div class="abs" style="left:1164px;top:0;width:1px;height:32px;background:#eeeeee"></div>
<div class="c" style="left:-3px;width:40px;text-align:center;top:10px;font-size:13px;color:#777">5</div>
<div class="c" style="left:73px;top:10px;letter-spacing:-0.1px">Banana Peanut Butter Smoothie</div>
<div class="abs" style="left:337px;top:6px;width:77px;height:18px;border-radius:9px;background:#d1f7c4"></div>
<div class="c" style="left:337px;width:77px;text-align:center;top:10px;letter-spacing:-0.3px;color:#1d1f25">Smoothies</div>
<div class="c" style="right:721px;top:10px;letter-spacing:-0.4px">$5.00</div>
<div class="c" style="right:649px;top:10px">2</div>
<div class="c" style="left:708px;top:10px;width:170px;overflow:hidden;letter-spacing:-0.15px">peanut butter, banana</div>
<div class="abs" style="left:886px;top:4px;width:278px;height:23px;overflow:hidden;white-space:nowrap"><div class="chip" style="position:relative;display:inline-block;top:0;margin-right:4px;vertical-align:top">peanut butter</div><div class="chip" style="position:relative;display:inline-block;top:0;margin-right:4px;vertical-align:top">banana</div></div>
</div>
<div class="row" style="top:80px">
<div class="abs" style="left:331px;top:0;width:128px;height:31px;background:#eaf9e5"></div>
<div class="abs" style="left:330px;top:0;width:1px;height:31px;background:#cfcfcf"></div>
<div class="abs" style="left:459px;top:0;width:1px;height:32px;background:#eeeeee"></div>
<div class="abs" style="left:629px;top:0;width:1px;height:32px;background:#eeeeee"></div>
<div class="abs" style="left:701px;top:0;width:1px;height:32px;background:#eeeeee"></div>
<div class="abs" style="left:881px;top:0;width:1px;height:32px;background:#eeeeee"></div>
<div class="abs" style="left:1164px;top:0;width:1px;height:32px;background:#eeeeee"></div>
<div class="c" style="left:-3px;width:40px;text-align:center;top:10px;font-size:13px;color:#777">6</div>
<div class="c" style="left:73px;top:10px;letter-spacing:-0.1px">Tropical Surprise Smoothie</div>
<div class="abs" style="left:337px;top:6px;width:77px;height:18px;border-radius:9px;background:#d1f7c4"></div>
<div class="c" style="left:337px;width:77px;text-align:center;top:10px;letter-spacing:-0.3px;color:#1d1f25">Smoothies</div>
<div class="c" style="right:721px;top:10px;letter-spacing:-0.4px">$5.00</div>
<div class="c" style="right:649px;top:10px">3</div>
<div class="c" style="left:708px;top:10px;width:170px;overflow:hidden;letter-spacing:-0.15px">banana, strawberries, oran…</div>
<div class="abs" style="left:886px;top:4px;width:278px;height:23px;overflow:hidden;white-space:nowrap"><div class="chip" style="position:relative;display:inline-block;top:0;margin-right:4px;vertical-align:top">banana</div><div class="chip" style="position:relative;display:inline-block;top:0;margin-right:4px;vertical-align:top">strawberries</div><div class="chip" style="position:relative;display:inline-block;top:0;margin-right:4px;vertical-align:top">orange juice</div></div>
</div>
<div class="abs" style="left:330px;top:112px;width:1px;height:31px;background:#cfcfcf"></div>
<svg class="abs" style="left:14px;top:124px" width="8" height="8" viewBox="0 0 8 8"><path d="M4 0 V8 M0 4 H8" stroke="#333" stroke-width="1.8"/></svg>
</div>
<div class="grp" style="top:431px;height:177px">
<div class="gh">
<div class="abs" style="left:331px;top:0;width:128px;height:47px;background:#f1f6ef"></div>
<div class="abs" style="left:330px;top:0;width:1px;height:47px;background:#cfcfcf"></div>
<div class="abs" style="left:459px;top:0;width:1px;height:47px;background:#e6e6e6"></div>
<div class="abs" style="left:629px;top:0;width:1px;height:47px;background:#e6e6e6"></div>
<div class="abs" style="left:701px;top:0;width:1px;height:47px;background:#e6e6e6"></div>
<div class="abs" style="left:881px;top:0;width:1px;height:47px;background:#e6e6e6"></div>
<div class="abs" style="left:1164px;top:0;width:1px;height:47px;background:#e6e6e6"></div>
<div class="abs" style="left:13px;top:22px;border-left:5px solid transparent;border-right:5px solid transparent;border-top:7px solid #444"></div>
<div class="t" style="left:35px;top:4.5px;font-size:9.7px;color:#777;letter-spacing:-0.1px">CATEGORY</div>
<div class="abs" style="left:35px;top:21px;width:58px;height:22px;border-radius:11px;background:#ffdc7a"></div>
<div class="t" style="left:35px;width:58px;text-align:center;top:25px;font-size:13px;font-weight:700;color:#1a1a2e">Bagels</div>
<div class="t" style="right:1026px;top:18px;font-size:13px;color:#444"><span style="font-size:11px;color:#8a8a8a;margin-right:4px">Count</span>3</div>
<div class="t" style="right:721px;top:18px;font-size:13px;color:#333;letter-spacing:-0.3px"><span style="font-size:11px;color:#8a8a8a;margin-right:5px;letter-spacing:0">Sum</span>$10.00</div>
<div class="abs" style="left:546px;top:23px;border-left:3px solid transparent;border-right:3px solid transparent;border-top:4px solid #888"></div>
<div class="t" style="right:650px;top:18px;font-size:13px;color:#333"><span style="font-size:11px;color:#8a8a8a;margin-right:5px">Sum</span>8</div>
<div class="abs" style="left:648px;top:23px;border-left:3px solid transparent;border-right:3px solid transparent;border-top:4px solid #888"></div>
</div>
<div class="row" style="top:48px">
<div class="abs" style="left:331px;top:0;width:128px;height:31px;background:#eaf9e5"></div>
<div class="abs" style="left:330px;top:0;width:1px;height:31px;background:#cfcfcf"></div>
<div class="abs" style="left:459px;top:0;width:1px;height:32px;background:#eeeeee"></div>
<div class="abs" style="left:629px;top:0;width:1px;height:32px;background:#eeeeee"></div>
<div class="abs" style="left:701px;top:0;width:1px;height:32px;background:#eeeeee"></div>
<div class="abs" style="left:881px;top:0;width:1px;height:32px;background:#eeeeee"></div>
<div class="abs" style="left:1164px;top:0;width:1px;height:32px;background:#eeeeee"></div>
<div class="c" style="left:-3px;width:40px;text-align:center;top:10px;font-size:13px;color:#777">7</div>
<div class="c" style="left:73px;top:10px;letter-spacing:-0.1px">Bagel with Cream Cheese</div>
<div class="abs" style="left:337px;top:6px;width:53px;height:18px;border-radius:9px;background:#ffdc7a"></div>
<div class="c" style="left:337px;width:53px;text-align:center;top:10px;letter-spacing:-0.3px;color:#1d1f25">Bagels</div>
<div class="c" style="right:721px;top:10px;letter-spacing:-0.4px">$5.00</div>
<div class="c" style="right:649px;top:10px">2</div>
<div class="c" style="left:708px;top:10px;width:170px;overflow:hidden;letter-spacing:-0.15px">plain bagel, cream cheese</div>
<div class="abs" style="left:886px;top:4px;width:278px;height:23px;overflow:hidden;white-space:nowrap"><div class="chip" style="position:relative;display:inline-block;top:0;margin-right:4px;vertical-align:top">plain bagel</div><div class="chip" style="position:relative;display:inline-block;top:0;margin-right:4px;vertical-align:top">cream cheese</div></div>
</div>
<div class="row" style="top:80px">
<div class="abs" style="left:331px;top:0;width:128px;height:31px;background:#eaf9e5"></div>
<div class="abs" style="left:330px;top:0;width:1px;height:31px;background:#cfcfcf"></div>
<div class="abs" style="left:459px;top:0;width:1px;height:32px;background:#eeeeee"></div>
<div class="abs" style="left:629px;top:0;width:1px;height:32px;background:#eeeeee"></div>
<div class="abs" style="left:701px;top:0;width:1px;height:32px;background:#eeeeee"></div>
<div class="abs" style="left:881px;top:0;width:1px;height:32px;background:#eeeeee"></div>
<div class="abs" style="left:1164px;top:0;width:1px;height:32px;background:#eeeeee"></div>
<div class="c" style="left:-3px;width:40px;text-align:center;top:10px;font-size:13px;color:#777">8</div>
<div class="c" style="left:73px;top:10px;letter-spacing:-0.1px">Bagel with Lox</div>
<div class="abs" style="left:337px;top:6px;width:53px;height:18px;border-radius:9px;background:#ffdc7a"></div>
<div class="c" style="left:337px;width:53px;text-align:center;top:10px;letter-spacing:-0.3px;color:#1d1f25">Bagels</div>
<div class="c" style="right:721px;top:10px;letter-spacing:-0.4px">$5.00</div>
<div class="c" style="right:649px;top:10px">2</div>
<div class="c" style="left:708px;top:10px;width:170px;overflow:hidden;letter-spacing:-0.15px">plain bagel, lox</div>
<div class="abs" style="left:886px;top:4px;width:278px;height:23px;overflow:hidden;white-space:nowrap"><div class="chip" style="position:relative;display:inline-block;top:0;margin-right:4px;vertical-align:top">plain bagel</div><div class="chip" style="position:relative;display:inline-block;top:0;margin-right:4px;vertical-align:top">lox</div></div>
</div>
<div class="row" style="top:112px">
<div class="abs" style="left:331px;top:0;width:128px;height:31px;background:#eaf9e5"></div>
<div class="abs" style="left:330px;top:0;width:1px;height:31px;background:#cfcfcf"></div>
<div class="abs" style="left:459px;top:0;width:1px;height:32px;background:#eeeeee"></div>
<div class="abs" style="left:629px;top:0;width:1px;height:32px;background:#eeeeee"></div>
<div class="abs" style="left:701px;top:0;width:1px;height:32px;background:#eeeeee"></div>
<div class="abs" style="left:881px;top:0;width:1px;height:32px;background:#eeeeee"></div>
<div class="abs" style="left:1164px;top:0;width:1px;height:32px;background:#eeeeee"></div>
<div class="c" style="left:-3px;width:40px;text-align:center;top:10px;font-size:13px;color:#777">9</div>
<div class="c" style="left:73px;top:10px;letter-spacing:-0.1px">Bagel with BLT</div>
<div class="abs" style="left:337px;top:6px;width:53px;height:18px;border-radius:9px;background:#ffdc7a"></div>
<div class="c" style="left:337px;width:53px;text-align:center;top:10px;letter-spacing:-0.3px;color:#1d1f25">Bagels</div>
<div class="c" style="right:649px;top:10px">4</div>
<div class="c" style="left:708px;top:10px;width:170px;overflow:hidden;letter-spacing:-0.15px">bacon, lettuce, tomato, plai…</div>
<div class="abs" style="left:886px;top:4px;width:278px;height:23px;overflow:hidden;white-space:nowrap"><div class="chip" style="position:relative;display:inline-block;top:0;margin-right:4px;vertical-align:top">bacon</div><div class="chip" style="position:relative;display:inline-block;top:0;margin-right:4px;vertical-align:top">lettuce</div><div class="chip" style="position:relative;display:inline-block;top:0;margin-right:4px;vertical-align:top">tomato</div><div class="chip" style="position:relative;display:inline-block;top:0;margin-right:4px;vertical-align:top">plain bagel</div></div>
</div>
<div class="abs" style="left:330px;top:144px;width:1px;height:31px;background:#cfcfcf"></div>
<svg class="abs" style="left:14px;top:156px" width="8" height="8" viewBox="0 0 8 8"><path d="M4 0 V8 M0 4 H8" stroke="#333" stroke-width="1.8"/></svg>
</div>
<div class="grp" style="top:623px;height:209px">
<div class="gh">
<div class="abs" style="left:331px;top:0;width:128px;height:47px;background:#f1f6ef"></div>
<div class="abs" style="left:330px;top:0;width:1px;height:47px;background:#cfcfcf"></div>
<div class="abs" style="left:459px;top:0;width:1px;height:47px;background:#e6e6e6"></div>
<div class="abs" style="left:629px;top:0;width:1px;height:47px;background:#e6e6e6"></div>
<div class="abs" style="left:701px;top:0;width:1px;height:47px;background:#e6e6e6"></div>
<div class="abs" style="left:881px;top:0;width:1px;height:47px;background:#e6e6e6"></div>
<div class="abs" style="left:1164px;top:0;width:1px;height:47px;background:#e6e6e6"></div>
<div class="abs" style="left:13px;top:22px;border-left:5px solid transparent;border-right:5px solid transparent;border-top:7px solid #444"></div>
<div class="t" style="left:35px;top:4.5px;font-size:9.7px;color:#777;letter-spacing:-0.1px">CATEGORY</div>
<div class="abs" style="left:35px;top:21px;width:54px;height:22px;border-radius:11px;background:#d1f7c4"></div>
<div class="t" style="left:35px;width:54px;text-align:center;top:25px;font-size:13px;font-weight:700;color:#1a1a2e">Mains</div>
<div class="t" style="right:1026px;top:18px;font-size:13px;color:#444"><span style="font-size:11px;color:#8a8a8a;margin-right:4px">Count</span>4</div>
<div class="t" style="right:721px;top:18px;font-size:13px;color:#333;letter-spacing:-0.3px"><span style="font-size:11px;color:#8a8a8a;margin-right:5px;letter-spacing:0">Sum</span>$53.00</div>
<div class="abs" style="left:546px;top:23px;border-left:3px solid transparent;border-right:3px solid transparent;border-top:4px solid #888"></div>
<div class="t" style="right:650px;top:18px;font-size:13px;color:#333"><span style="font-size:11px;color:#8a8a8a;margin-right:5px">Sum</span>23</div>
<div class="abs" style="left:641px;top:23px;border-left:3px solid transparent;border-right:3px solid transparent;border-top:4px solid #888"></div>
</div>
<div class="row" style="top:48px">
<div class="abs" style="left:331px;top:0;width:128px;height:31px;background:#eaf9e5"></div>
<div class="abs" style="left:330px;top:0;width:1px;height:31px;background:#cfcfcf"></div>
<div class="abs" style="left:459px;top:0;width:1px;height:32px;background:#eeeeee"></div>
<div class="abs" style="left:629px;top:0;width:1px;height:32px;background:#eeeeee"></div>
<div class="abs" style="left:701px;top:0;width:1px;height:32px;background:#eeeeee"></div>
<div class="abs" style="left:881px;top:0;width:1px;height:32px;background:#eeeeee"></div>
<div class="abs" style="left:1164px;top:0;width:1px;height:32px;background:#eeeeee"></div>
<div class="c" style="left:-3px;width:40px;text-align:center;top:10.5px;font-size:11px;color:#777">10</div>
<div class="c" style="left:73px;top:10px;letter-spacing:-0.1px">Double Decker Burger</div>
<div class="abs" style="left:337px;top:6px;width:49px;height:18px;border-radius:9px;background:#d1f7c4"></div>
<div class="c" style="left:337px;width:49px;text-align:center;top:10px;letter-spacing:-0.3px;color:#1d1f25">Mains</div>
<div class="c" style="right:721px;top:10px;letter-spacing:-0.4px">$15.00</div>
<div class="c" style="right:649px;top:10px">7</div>
<div class="c" style="left:708px;top:10px;width:170px;overflow:hidden;letter-spacing:-0.15px">lettuce, tomato, beef patty,…</div>
<div class="abs" style="left:886px;top:4px;width:278px;height:23px;overflow:hidden;white-space:nowrap"><div class="chip" style="position:relative;display:inline-block;top:0;margin-right:4px;vertical-align:top">lettuce</div><div class="chip" style="position:relative;display:inline-block;top:0;margin-right:4px;vertical-align:top">tomato</div><div class="chip" style="position:relative;display:inline-block;top:0;margin-right:4px;vertical-align:top">beef patty</div><div class="chip" style="position:relative;display:inline-block;top:0;margin-right:4px;vertical-align:top">burger bun</div><div class="chip" style="position:relative;display:inline-block;top:0;margin-right:4px;vertical-align:top">house sauce</div></div>
<div class="abs" style="left:1168px;top:4px;width:21px;height:24px;border-radius:2px;border:1px solid #ddd;background:#fff;padding:1px"><div style="width:100%;height:100%;background:radial-gradient(circle at 50% 62%, #c98a3a 0, #8a4b22 22%, #2a1c14 48%, #0f0f12 80%)"></div></div>
</div>
<div class="row" style="top:80px">
<div class="abs" style="left:331px;top:0;width:128px;height:31px;background:#eaf9e5"></div>
<div class="abs" style="left:330px;top:0;width:1px;height:31px;background:#cfcfcf"></div>
<div class="abs" style="left:459px;top:0;width:1px;height:32px;background:#eeeeee"></div>
<div class="abs" style="left:629px;top:0;width:1px;height:32px;background:#eeeeee"></div>
<div class="abs" style="left:701px;top:0;width:1px;height:32px;background:#eeeeee"></div>
<div class="abs" style="left:881px;top:0;width:1px;height:32px;background:#eeeeee"></div>
<div class="abs" style="left:1164px;top:0;width:1px;height:32px;background:#eeeeee"></div>
<div class="c" style="left:-3px;width:40px;text-align:center;top:10.5px;font-size:11px;color:#777">11</div>
<div class="c" style="left:73px;top:10px;letter-spacing:-0.1px">Red Curry Chicken Skewers</div>
<div class="abs" style="left:337px;top:6px;width:49px;height:18px;border-radius:9px;background:#d1f7c4"></div>
<div class="c" style="left:337px;width:49px;text-align:center;top:10px;letter-spacing:-0.3px;color:#1d1f25">Mains</div>
<div class="c" style="right:721px;top:10px;letter-spacing:-0.4px">$13.00</div>
<div class="c" style="right:649px;top:10px">6</div>
<div class="c" style="left:708px;top:10px;width:170px;overflow:hidden;letter-spacing:-0.15px">chicken (cubed), onion, to…</div>
<div class="abs" style="left:886px;top:4px;width:278px;height:23px;overflow:hidden;white-space:nowrap"><div class="chip" style="position:relative;display:inline-block;top:0;margin-right:4px;vertical-align:top">chicken (cubed)</div><div class="chip" style="position:relative;display:inline-block;top:0;margin-right:4px;vertical-align:top">onion</div><div class="chip" style="position:relative;display:inline-block;top:0;margin-right:4px;vertical-align:top">tomato</div><div class="chip" style="position:relative;display:inline-block;top:0;margin-right:4px;vertical-align:top">zucchini</div><div class="chip" style="position:relative;display:inline-block;top:0;margin-right:4px;vertical-align:top">red curry</div></div>
<div class="abs" style="left:1168px;top:4px;width:21px;height:24px;border-radius:2px;border:1px solid #ddd;background:#fff;padding:1px"><div style="width:100%;height:100%;background:radial-gradient(circle at 50% 58%, #b5654f 0, #7a3a2e 25%, #d8d8d8 42%, #3a3a3a 58%, #151515 85%)"></div></div>
</div>
<div class="row" style="top:112px">
<div class="abs" style="left:331px;top:0;width:128px;height:31px;background:#eaf9e5"></div>
<div class="abs" style="left:330px;top:0;width:1px;height:31px;background:#cfcfcf"></div>
<div class="abs" style="left:459px;top:0;width:1px;height:32px;background:#eeeeee"></div>
<div class="abs" style="left:629px;top:0;width:1px;height:32px;background:#eeeeee"></div>
<div class="abs" style="left:701px;top:0;width:1px;height:32px;background:#eeeeee"></div>
<div class="abs" style="left:881px;top:0;width:1px;height:32px;background:#eeeeee"></div>
<div class="abs" style="left:1164px;top:0;width:1px;height:32px;background:#eeeeee"></div>
<div class="c" style="left:-3px;width:40px;text-align:center;top:10.5px;font-size:11px;color:#777">12</div>
<div class="c" style="left:73px;top:10px;letter-spacing:-0.1px">Chef&#39;s Caesar Salad</div>
<div class="abs" style="left:337px;top:6px;width:49px;height:18px;border-radius:9px;background:#d1f7c4"></div>
<div class="c" style="left:337px;width:49px;text-align:center;top:10px;letter-spacing:-0.3px;color:#1d1f25">Mains</div>
<div class="c" style="right:721px;top:10px;letter-spacing:-0.4px">$12.00</div>
<div class="c" style="right:649px;top:10px">5</div>
<div class="c" style="left:708px;top:10px;width:170px;overflow:hidden;letter-spacing:-0.15px">lettuce, caesar dressing, cr…</div>
<div class="abs" style="left:886px;top:4px;width:278px;height:23px;overflow:hidden;white-space:nowrap"><div class="chip" style="position:relative;display:inline-block;top:0;margin-right:4px;vertical-align:top">lettuce</div><div class="chip" style="position:relative;display:inline-block;top:0;margin-right:4px;vertical-align:top">caesar dressing</div><div class="chip" style="position:relative;display:inline-block;top:0;margin-right:4px;vertical-align:top">croutons</div><div class="chip" style="position:relative;display:inline-block;top:0;margin-right:4px;vertical-align:top">bacon</div><div class="chip" style="position:relative;display:inline-block;top:0;margin-right:4px;vertical-align:top">parmesan</div></div>
<div class="abs" style="left:1168px;top:4px;width:21px;height:24px;border-radius:2px;border:1px solid #ddd;background:#fff;padding:1px"><div style="width:100%;height:100%;background:radial-gradient(circle at 50% 55%, #c4563f 0, #d5a255 25%, #9a6a55 40%, #cfcfcf 62%, #bdbdbd 90%)"></div></div>
</div>
<div class="row" style="top:144px">
<div class="abs" style="left:331px;top:0;width:128px;height:31px;background:#eaf9e5"></div>
<div class="abs" style="left:330px;top:0;width:1px;height:31px;background:#cfcfcf"></div>
<div class="abs" style="left:459px;top:0;width:1px;height:32px;background:#eeeeee"></div>
<div class="abs" style="left:629px;top:0;width:1px;height:32px;background:#eeeeee"></div>
<div class="abs" style="left:701px;top:0;width:1px;height:32px;background:#eeeeee"></div>
<div class="abs" style="left:881px;top:0;width:1px;height:32px;background:#eeeeee"></div>
<div class="abs" style="left:1164px;top:0;width:1px;height:32px;background:#eeeeee"></div>
<div class="c" style="left:-3px;width:40px;text-align:center;top:10.5px;font-size:11px;color:#777">13</div>
<div class="c" style="left:73px;top:10px;letter-spacing:-0.1px">Green Goddess Toast</div>
<div class="abs" style="left:337px;top:6px;width:49px;height:18px;border-radius:9px;background:#d1f7c4"></div>
<div class="c" style="left:337px;width:49px;text-align:center;top:10px;letter-spacing:-0.3px;color:#1d1f25">Mains</div>
<div class="c" style="right:721px;top:10px;letter-spacing:-0.4px">$13.00</div>
<div class="c" style="right:649px;top:10px">5</div>
<div class="c" style="left:708px;top:10px;width:170px;overflow:hidden;letter-spacing:-0.15px">sourdough, avocado, spina…</div>
<div class="abs" style="left:886px;top:4px;width:278px;height:23px;overflow:hidden;white-space:nowrap"><div class="chip" style="position:relative;display:inline-block;top:0;margin-right:4px;vertical-align:top">sourdough</div><div class="chip" style="position:relative;display:inline-block;top:0;margin-right:4px;vertical-align:top">avocado</div><div class="chip" style="position:relative;display:inline-block;top:0;margin-right:4px;vertical-align:top">spinach</div><div class="chip" style="position:relative;display:inline-block;top:0;margin-right:4px;vertical-align:top">basil</div><div class="chip" style="position:relative;display:inline-block;top:0;margin-right:4px;vertical-align:top">egg</div></div>
<div class="abs" style="left:1168px;top:4px;width:21px;height:24px;border-radius:2px;border:1px solid #ddd;background:#fff;padding:1px"><div style="width:100%;height:100%;background:radial-gradient(circle at 55% 50%, #e7cc4a 0, #9a8a3a 18%, #5b5b5b 36%, #8d8d8d 58%, #d4d4d4 85%)"></div></div>
</div>
<div class="abs" style="left:330px;top:176px;width:1px;height:31px;background:#cfcfcf"></div>
<svg class="abs" style="left:14px;top:188px" width="8" height="8" viewBox="0 0 8 8"><path d="M4 0 V8 M0 4 H8" stroke="#333" stroke-width="1.8"/></svg>
</div>
<div class="abs" style="left:0;top:819px;width:1638px;height:33px;background:#f5f5f5;border-top:1px solid #d8dcdf"></div>
<div class="abs" style="left:346px;top:819px;width:1px;height:33px;background:#cfcfcf"></div>
<div class="t" style="left:46px;top:827px;font-size:11px;color:#333">13 records</div>
<div class="t" style="right:999px;top:825px;font-size:13px;color:#333;letter-spacing:-0.3px"><span style="font-size:11px;color:#8a8a8a;margin-right:5px;letter-spacing:0">Sum</span>$83.00</div>
<div class="t" style="right:926px;top:825px;font-size:13px;color:#333"><span style="font-size:11px;color:#8a8a8a;margin-right:5px">Sum</span>39</div>
<div class="abs" style="left:9px;top:809px;width:28px;height:28px;border-radius:50%;background:#fff;box-shadow:0 0 0 1px rgba(0,0,0,0.08),0 1px 2px rgba(0,0,0,0.1)"></div>
<svg class="abs" style="left:19px;top:819px" width="8" height="8" viewBox="0 0 8 8"><path d="M4 0 V8 M0 4 H8" stroke="#333" stroke-width="1.8"/></svg>
<div class="abs" style="left:1626px;top:34px;width:10px;height:645px;border-radius:5px;background:#aaaaaa;border:1px solid #fff"></div>
</div>
</body></html>
